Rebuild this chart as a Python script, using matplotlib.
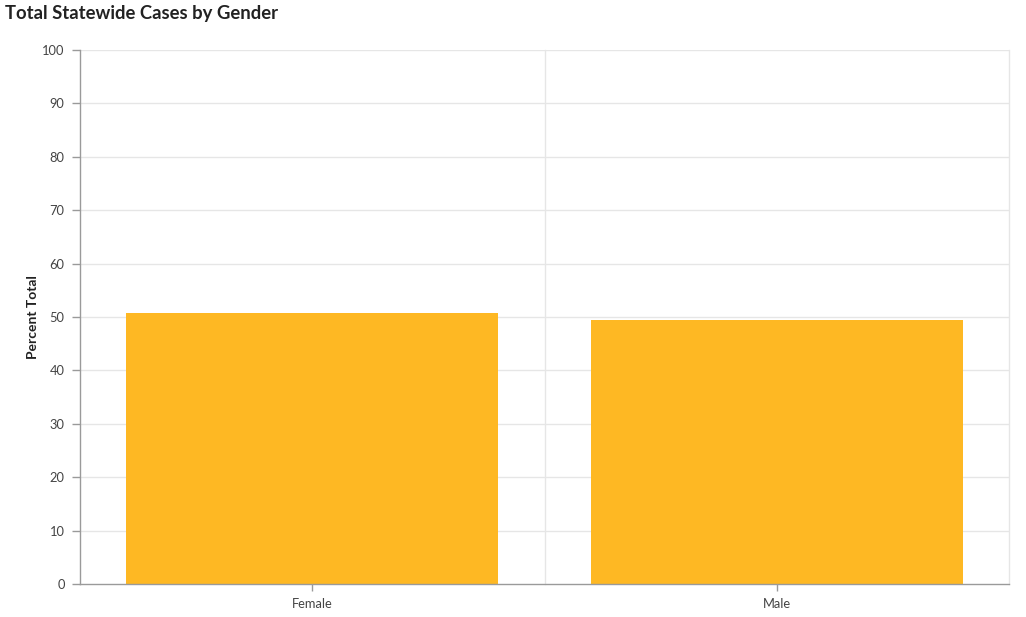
import matplotlib
matplotlib.use("Agg")
import matplotlib.pyplot as plt
import numpy as np

categories = ["Female", "Male"]
values = [50.75, 49.4]
yticks = [0, 10, 20, 30, 40, 50, 60, 70, 80, 90, 100]

plt.rcParams['font.family'] = ['Lato', 'DejaVu Sans']

fig = plt.figure(figsize=(10.26, 6.17), dpi=100)
W, H = 1026, 617
ax = fig.add_axes([80 / W, (H - 584) / H, (1009 - 80) / W, (584 - 50) / H])

x = np.arange(len(categories))
ax.bar(x, values, width=0.8, color="#FEB823", zorder=3)

ax.set_xlim(-0.5, len(categories) - 0.5)
ax.set_ylim(0, 100)
ax.set_yticks(yticks)
ax.set_xticks(x)
ax.set_xticklabels(categories)

# grid
for yv in yticks[1:]:
    ax.axhline(yv, color="#e6e6e6", lw=1, zorder=1)
for xv in np.arange(0.5, len(categories) + 0.5, 1.0):
    ax.axvline(xv, color="#e6e6e6", lw=1, zorder=1, clip_on=False)

for s in ["top", "right"]:
    ax.spines[s].set_visible(False)
for s in ["left", "bottom"]:
    ax.spines[s].set_color("#9a9a9a")
    ax.spines[s].set_linewidth(1)
    ax.spines[s].set_zorder(4)

ax.tick_params(axis="both", colors="#9a9a9a", labelcolor="#444444", labelsize=9.3, width=1)
ax.tick_params(axis="x", pad=5, length=5)
ax.tick_params(axis="y", pad=5, length=6)

ax.set_ylabel("Percent Total", fontsize=10, fontweight="bold", color="#222222", labelpad=2)

fig.text(5 / W, 1 - 13 / H, "Total Statewide Cases by Gender", fontsize=13.3, fontweight="bold",
         color="#222222", ha="left", va="center")

fig.savefig("out.png", dpi=100, facecolor="white")
